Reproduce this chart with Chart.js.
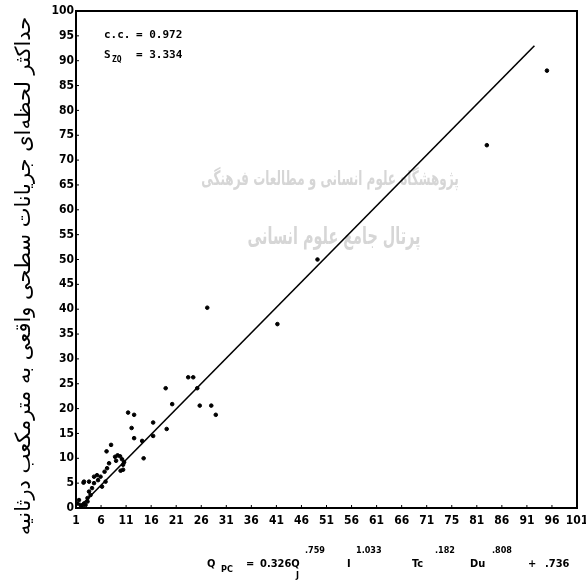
<!DOCTYPE html>
<html>
<head>
<meta charset="utf-8">
<script src="https://cdn.jsdelivr.net/npm/chart.js@4.4.1/dist/chart.umd.min.js"></script>
<style>
html,body{margin:0;padding:0;background:#fff;}
#wrap{width:586px;height:582px;position:relative;}
</style>
</head>
<body>
<div id="wrap"><canvas id="c" width="586" height="582"></canvas></div>
<script>
// ---- data ----
const xTickValues = [1,6,11,16,21,26,31,36,41,46,51,56,61,66,71,76,81,86,91,96,101];
const xTickLabels = ['1','6','11','16','21','26','31','36','41','46','51','56','61','66','71','75','81','86','91','96','101'];
const yTickValues = [0,5,10,15,20,25,30,35,40,45,50,55,60,65,70,75,80,85,90,95,100];
const yTickLabels = ['0','5','10','15','20','25','30','35','40','45','50','55','60','65','70','75','80','85','90','95','100'];

const observedX = [95,83,49.2,41.2,27.2,23.4,24.4,18.9,25.2,20.2,25.7,28.0,28.9,16.4,19.1,16.4,
  11.4,12.6,12.1,12.6,14.2,14.5,8.0,7.1,8.8,9.3,9.8,10.2,10.6,9.0,10.4,9.9,10.4,7.6,7.2,6.7,
  5.9,5.2,4.6,3.6,2.6,4.6,5.4,6.2,6.9,4.2,3.6,3.9,3.3,1.6,1.9,2.6,3.3,2.9,2.2,1.3,2.5];
const predictedY = [88,73,50,37.0,40.3,26.3,26.3,24.1,24.1,20.9,20.6,20.6,18.75,17.2,15.9,14.5,
  19.2,18.75,16.1,14.05,13.5,10.0,12.7,11.4,10.3,10.6,10.4,9.8,9.2,9.5,8.7,7.5,7.7,9.0,8.0,7.3,
  6.3,6.6,6.3,5.3,5.3,5.0,5.6,4.3,5.3,4.0,3.3,2.6,2.0,1.6,0.6,0.9,1.3,0.6,0.3,0.9,5.1];

const fitLineX = [2, 92.5];
const fitLineY = [0.5, 93];

const yTitle = 'حداکثر لحظه‌ای جریانات سطحی واقعی به مترمکعب درثانیه';
const watermark1 = 'پژوهشگاه علوم انسانی و مطالعات فرهنگی';
const watermark2 = 'پرتال جامع علوم انسانی';

// ---- chart ----
const scatterPts = observedX.map((x,i)=>({x:x, y:predictedY[i]}));
const linePts = fitLineX.map((x,i)=>({x:x, y:fitLineY[i]}));

const TICKFONT = {family:"'Liberation Sans Narrow','DejaVu Sans Condensed',sans-serif", size:12, weight:'bold'};

const extras = {
  id:'extras',
  beforeDatasetsDraw(chart){
    const ctx = chart.ctx;
    ctx.save();
    ctx.fillStyle = '#d6d6d6';
    ctx.textAlign = 'center';
    ctx.textBaseline = 'middle';
    ctx.save();
    ctx.translate(330, 180);
    ctx.scale(0.6, 1);
    ctx.font = "bold 20px 'DejaVu Sans'";
    ctx.fillText(watermark1, 0, 0);
    ctx.restore();
    ctx.save();
    ctx.translate(334, 238);
    ctx.scale(0.6, 1);
    ctx.font = "bold 24px 'DejaVu Sans'";
    ctx.fillText(watermark2, 0, 0);
    ctx.restore();
    ctx.restore();
  },
  afterDraw(chart){
    const ctx = chart.ctx;
    const xs = chart.scales.x, ys = chart.scales.y;
    const L = xs.left, R = xs.right, T = ys.top, B = ys.bottom;
    ctx.save();
    ctx.strokeStyle = '#000';
    ctx.lineWidth = 2;
    ctx.beginPath();
    ctx.moveTo(L, T); ctx.lineTo(R, T); ctx.lineTo(R, B); ctx.lineTo(L, B); ctx.closePath();
    ctx.stroke();
    // inner ticks
    ctx.lineWidth = 1;
    yTickValues.forEach(v=>{
      const p = ys.getPixelForValue(v);
      ctx.beginPath(); ctx.moveTo(L, p); ctx.lineTo(L+3, p); ctx.stroke();
    });
    xTickValues.forEach(v=>{
      const p = xs.getPixelForValue(v);
      ctx.beginPath(); ctx.moveTo(p, B); ctx.lineTo(p, B-3); ctx.stroke();
    });
    // stats
    ctx.fillStyle = '#000';
    ctx.textBaseline = 'alphabetic';
    ctx.textAlign = 'left';
    ctx.font = "bold 11px 'DejaVu Sans Mono'";
    ctx.fillText('c.c.', 104, 38);
    ctx.fillText('= 0.972', 136, 38);
    ctx.fillText('S', 104, 58);
    ctx.font = "bold 8px 'DejaVu Sans Mono'";
    ctx.fillText('ZQ', 112, 62);
    ctx.font = "bold 11px 'DejaVu Sans Mono'";
    ctx.fillText('= 3.334', 136, 58);
    // y title
    ctx.save();
    ctx.translate(25, 276);
    ctx.rotate(-Math.PI/2);
    ctx.textAlign = 'center';
    ctx.textBaseline = 'middle';
    ctx.font = "21px 'DejaVu Sans'";
    ctx.fillText(yTitle, 0, 0);
    ctx.restore();
    // formula
    const big = "bold 11px 'Liberation Sans Narrow','DejaVu Sans Condensed'";
    const sm = "bold 9px 'Liberation Sans Narrow','DejaVu Sans Condensed'";
    const parts = [
      [big,'Q',207,567],[sm,'PC',221,572],[big,'=',246,567],[big,'0.326Q',260,567],[sm,'J',296,578],
      [sm,'.759',305,553],[big,'I',347,567],[sm,'1.033',356,553],[big,'Tc',412,567],[sm,'.182',435,553],
      [big,'Du',470,567],[sm,'.808',492,553],[big,'+',528,567],[big,'.736',545,567]
    ];
    parts.forEach(p=>{ctx.font=p[0]; ctx.fillText(p[1],p[2],p[3]);});
    ctx.restore();
  }
};

new Chart(document.getElementById('c'), {
  type:'scatter',
  data:{datasets:[
    {label:'fit', type:'line', data:linePts, borderColor:'#000', borderWidth:1.6, pointRadius:0, fill:false, showLine:true},
    {label:'obs', data:scatterPts, backgroundColor:'#000', borderColor:'#000', pointRadius:1.8, pointHoverRadius:1.8}
  ]},
  plugins:[extras],
  options:{
    responsive:false, animation:false,
    layout:{padding:{top:11,right:9,left:0,bottom:0}},
    plugins:{legend:{display:false}, tooltip:{enabled:false}},
    scales:{
      x:{type:'linear', min:1, max:101,
        afterBuildTicks(s){ s.ticks = xTickValues.map(v=>({value:v})); },
        afterFit(s){ s.height = 74; s.paddingRight = 0; s.paddingLeft = 0; },
        grid:{display:false, drawTicks:false},
        border:{display:false},
        ticks:{autoSkip:false, maxRotation:0, padding:6, color:'#000', font:TICKFONT,
          callback:(v,i)=>xTickLabels[i]}
      },
      y:{type:'linear', min:0, max:100,
        afterBuildTicks(s){ s.ticks = yTickValues.map(v=>({value:v})); },
        afterFit(s){ s.width = 76; s.paddingTop = 0; s.paddingBottom = 0; },
        grid:{display:false, drawTicks:false},
        border:{display:false},
        ticks:{autoSkip:false, padding:2, color:'#000', font:TICKFONT,
          callback:(v,i)=>yTickLabels[i]}
      }
    }
  }
});
</script>
</body>
</html>
